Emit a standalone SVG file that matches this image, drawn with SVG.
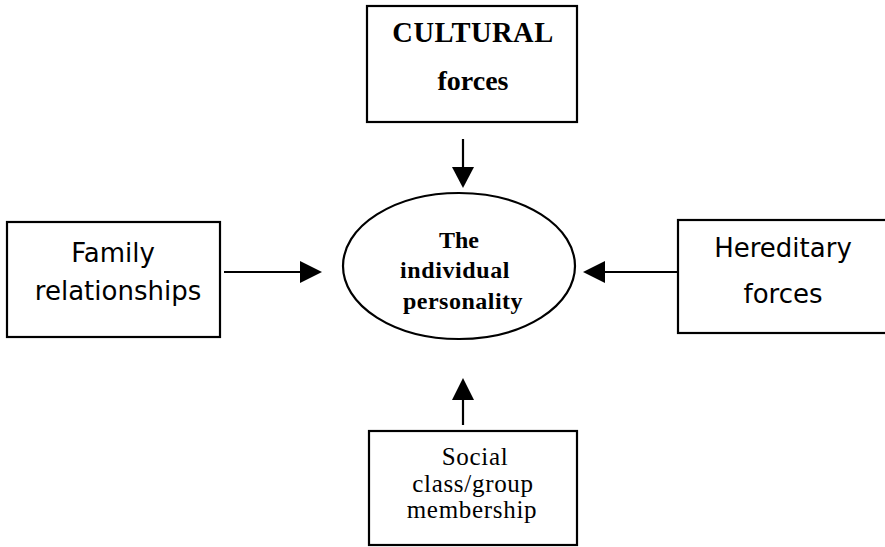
<svg xmlns="http://www.w3.org/2000/svg" width="885" height="547" viewBox="0 0 885 547">
<defs>
<style>
.box{fill:#fff;stroke:#000;stroke-width:2.2}
.ser{font-family:"Liberation Serif","Times New Roman",serif;fill:#000;text-anchor:middle}
.sans{font-family:"DejaVu Sans",Verdana,sans-serif;fill:#000;text-anchor:middle;font-size:26px}
.conn line{stroke:#000;stroke-width:2.2}
.conn polygon{fill:#000}
</style>
</defs>
<rect width="885" height="547" fill="#fff"/>
<g id="cultural">
<rect class="box" x="367" y="6" width="210" height="116"/>
<text class="ser" x="473" y="42" font-size="28.5" font-weight="bold" letter-spacing="0.5">CULTURAL</text>
<text class="ser" x="473" y="90" font-size="28" font-weight="bold">forces</text>
</g>
<g id="personality">
<ellipse cx="459" cy="266" rx="116" ry="73" fill="#fff" stroke="#000" stroke-width="2.2"/>
<text class="ser" x="459" y="248" font-size="24" font-weight="bold">The</text>
<text class="ser" x="455" y="278" font-size="24" font-weight="bold" letter-spacing="0.6">individual</text>
<text class="ser" x="463" y="309" font-size="24" font-weight="bold" letter-spacing="0.5">personality</text>
</g>
<g id="family">
<rect class="box" x="7" y="222" width="213" height="115"/>
<text class="sans" x="113" y="262">Family</text>
<text class="sans" x="118" y="300">relationships</text>
</g>
<g id="hereditary">
<rect class="box" x="678" y="220" width="210" height="113"/>
<text class="sans" x="783" y="257">Hereditary</text>
<text class="sans" x="783" y="303">forces</text>
</g>
<g id="social">
<rect class="box" x="369" y="431" width="208" height="114"/>
<text class="ser" x="475" y="465" font-size="25" letter-spacing="0.7">Social</text>
<text class="ser" x="473" y="492" font-size="25" letter-spacing="0.7">class/group</text>
<text class="ser" x="472" y="518" font-size="25" letter-spacing="0.7">membership</text>
</g>
<g id="connectors" class="conn">
<line x1="463" y1="139" x2="463" y2="168"/>
<polygon points="452,167 474,167 463,188"/>
<line x1="224" y1="272" x2="302" y2="272"/>
<polygon points="300,261 300,283 322,272"/>
<line x1="678" y1="272" x2="603" y2="272"/>
<polygon points="605,261 605,283 583,272"/>
<line x1="463" y1="425" x2="463" y2="398"/>
<polygon points="452,400 474,400 463,378"/>
</g>
</svg>
